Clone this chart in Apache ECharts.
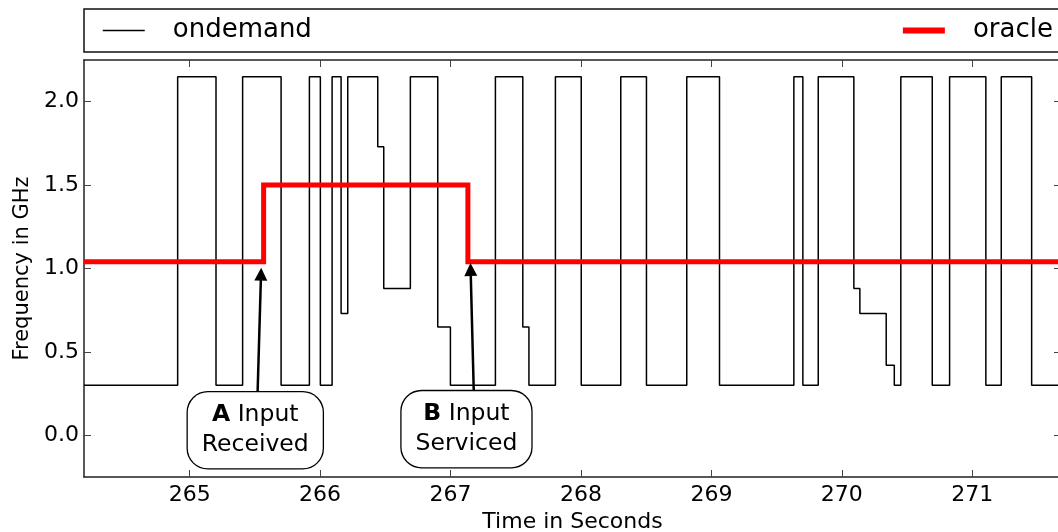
<!DOCTYPE html>
<html><head><meta charset="utf-8">
<script src="https://cdn.jsdelivr.net/npm/echarts@6/dist/echarts.min.js"></script>
<style>html,body{margin:0;padding:0;background:#fff;overflow:hidden}#c{width:1058px;height:532px}</style>
</head><body><div id="c"></div>
<script>
const xTicks = [265, 266, 267, 268, 269, 270, 271];
const yTicks = [0, 0.5, 1, 1.5, 2];
const ondemandTimes = [264.19, 264.908, 265.202, 265.406, 265.701, 265.918, 266.002, 266.092, 266.161, 266.212,
  266.442, 266.488, 266.692, 266.902, 266.999, 267.344, 267.554, 267.601, 267.804, 268.002,
  268.305, 268.502, 268.811, 269.062, 269.632, 269.701, 269.819, 270.092, 270.138, 270.340,
  270.402, 270.452, 270.693, 270.826, 271.104, 271.222, 271.455, 271.68];
const ondemandGHz = [0.3, 2.15, 0.3, 2.15, 0.3, 2.15, 0.3, 2.15, 0.73, 2.15,
  1.73, 0.88, 2.15, 0.65, 0.3, 2.15, 0.65, 0.3, 2.15, 0.3,
  2.15, 0.3, 2.15, 0.3, 2.15, 0.3, 2.15, 0.88, 0.73, 0.42,
  0.3, 2.15, 0.3, 2.15, 0.3, 2.15, 0.3, 0.3];
const oracleTimes = [264.19, 265.567, 267.133, 271.68];
const oracleGHz = [1.04, 1.5, 1.04, 1.04];
const annotationText = ['{b|A} Input\nReceived', '{b|B} Input\nServiced'];
const annotationAt = [[265.503, 0.03], [267.122, 0.037]];
const arrowFrom = [[265.521, 0.26], [267.178, 0.266]];
const arrowTo = [[265.547, 0.966], [267.154, 0.994]];

const FONT = 'DejaVu Sans';
const zip = (a, b) => a.map((v, i) => [v, b[i]]);
const chart = echarts.init(document.getElementById('c'), null, {renderer: 'canvas'});
const axisBase = {
  type: 'value', min: 264.19, max: 271.68,
  axisLine: {show: true, onZero: false, lineStyle: {color: '#222', width: 1.5}},
  splitLine: {show: false}
};
const yBase = {
  type: 'value', min: -0.25, max: 2.25,
  axisLine: {show: true, onZero: false, lineStyle: {color: '#222', width: 1.5}},
  splitLine: {show: false}
};
chart.setOption({
  animation: false,
  backgroundColor: '#fff',
  textStyle: {fontFamily: FONT},
  grid: {left: 84, right: -3, top: 60, bottom: 55, containLabel: false, outerBoundsMode: 'none'},
  legend: {
    orient: 'horizontal',
    left: 84, top: 9, width: 1400,
    data: [
      {name: 'ondemand', lineStyle: {width: 1.5}},
      {name: 'oracle', lineStyle: {width: 6}}
    ],
    itemWidth: 42, itemHeight: 14, itemGap: 588,
    padding: [6, 20, 6, 18],
    borderColor: '#111', borderWidth: 1.5, borderRadius: 0,
    backgroundColor: '#fff',
    itemStyle: {opacity: 0, borderWidth: 0},
    textStyle: {fontFamily: FONT, fontSize: 26, color: '#000', lineHeight: 31, padding: [0, 0, 0, 23]}
  },
  xAxis: [
    Object.assign({}, axisBase, {
      position: 'bottom',
      name: 'Time in Seconds', nameLocation: 'middle', nameGap: 32,
      nameTextStyle: {fontFamily: FONT, fontSize: 22, color: '#000'},
      axisTick: {show: true, inside: true, length: 7, lineStyle: {color: '#444'}, customValues: xTicks},
      axisLabel: {show: true, margin: 7, fontFamily: FONT, fontSize: 22, color: '#000', customValues: xTicks}
    }),
    Object.assign({}, axisBase, {
      position: 'top',
      axisTick: {show: true, inside: true, length: 7, lineStyle: {color: '#444'}, customValues: xTicks},
      axisLabel: {show: false}
    })
  ],
  yAxis: [
    Object.assign({}, yBase, {
      position: 'left',
      name: 'Frequency in GHz', nameLocation: 'middle', nameGap: 51, nameRotate: 90,
      nameTextStyle: {fontFamily: FONT, fontSize: 21, color: '#000'},
      axisTick: {show: true, inside: true, length: 7, lineStyle: {color: '#444'}, customValues: yTicks},
      axisLabel: {show: true, margin: 5, fontFamily: FONT, fontSize: 22, color: '#000',
        customValues: yTicks, formatter: v => v.toFixed(1)}
    }),
    Object.assign({}, yBase, {
      position: 'right',
      axisTick: {show: true, inside: true, length: 7, lineStyle: {color: '#444'}, customValues: yTicks},
      axisLabel: {show: false}
    })
  ],
  series: [
    {
      name: 'ondemand', type: 'line', step: 'end', symbol: 'none',
      data: zip(ondemandTimes, ondemandGHz),
      lineStyle: {color: '#000', width: 1.5},
      itemStyle: {color: '#000'},
      z: 2
    },
    {
      name: 'oracle', type: 'line', step: 'end', symbol: 'none',
      data: zip(oracleTimes, oracleGHz),
      lineStyle: {color: '#ff0000', width: 5, join: 'miter'},
      itemStyle: {color: '#ff0000'},
      z: 3,
      markLine: {
        silent: true, z: 4,
        symbolSize: [13, 13],
        lineStyle: {color: '#000', width: 2.5, type: 'solid'},
        label: {show: false},
        data: arrowFrom.map((f, i) => [
          {coord: f, symbol: 'none'},
          {coord: arrowTo[i], symbol: 'triangle'}
        ])
      },
      markPoint: {
        silent: true, z: 5,
        symbol: 'circle', symbolSize: 1,
        itemStyle: {color: 'rgba(0,0,0,0)'},
        label: {
          show: true, position: 'inside',
          fontFamily: FONT, fontSize: 23.5, lineHeight: 30, color: '#000', align: 'center',
          backgroundColor: '#fff', borderColor: '#000', borderWidth: 1.3, borderRadius: 20,
          padding: [8, 14],
          rich: {b: {fontFamily: FONT, fontSize: 23.5, fontWeight: 'bold', lineHeight: 30, color: '#000'}}
        },
        data: annotationAt.map((c, i) => ({coord: c, label: {formatter: annotationText[i]}}))
      }
    }
  ]
});
</script></body></html>
